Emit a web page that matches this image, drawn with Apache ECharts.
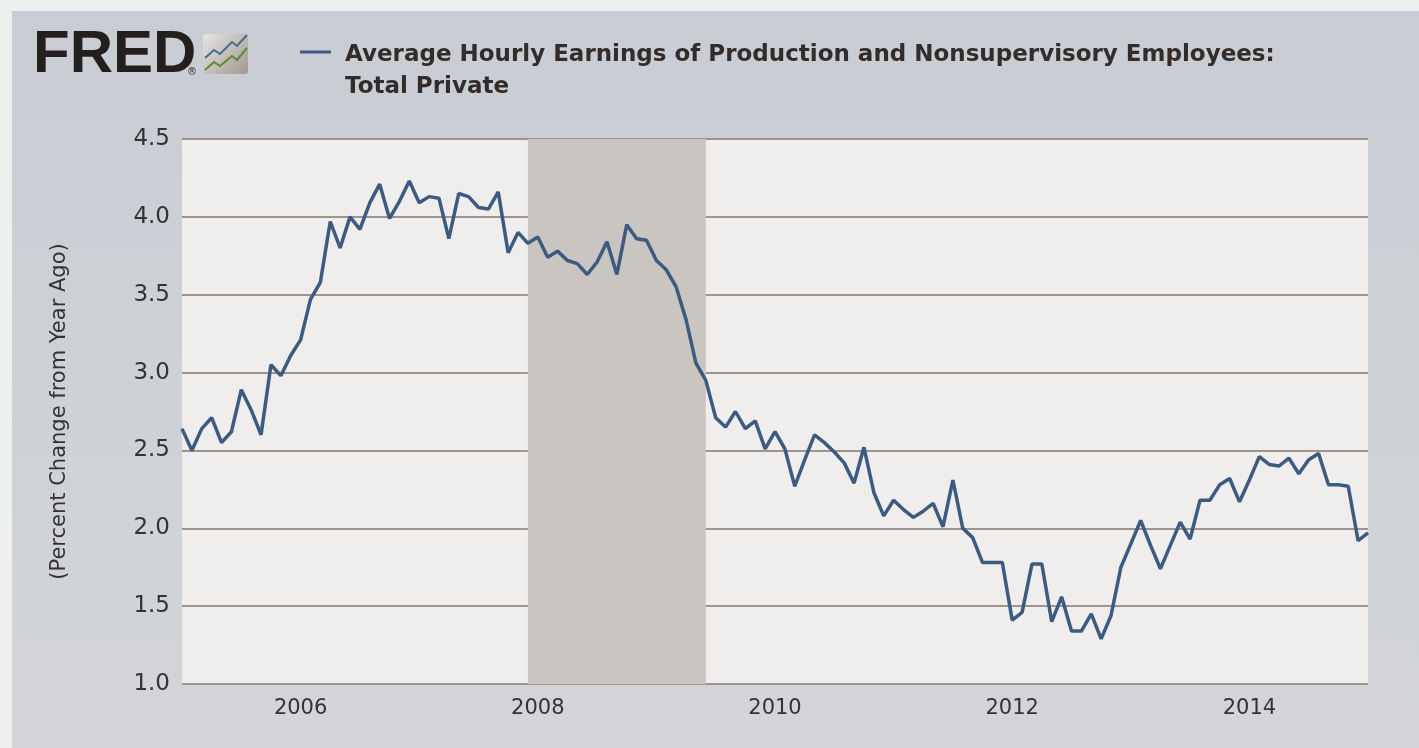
<!DOCTYPE html>
<html>
<head>
<meta charset="utf-8">
<script src="https://cdn.jsdelivr.net/npm/echarts@6/dist/echarts.min.js"></script>
<style>
html,body{margin:0;padding:0;background:#eef0f0;}
#chart{width:1419px;height:748px;}
</style>
</head>
<body>
<div id="chart"></div>
<script>
var y2005 = [2.64, 2.50, 2.64, 2.71, 2.55, 2.62, 2.89, 2.76, 2.60, 3.05, 2.98, 3.11];
var y2006 = [3.21, 3.47, 3.58, 3.97, 3.80, 4.00, 3.92, 4.09, 4.21, 3.99, 4.10, 4.23];
var y2007 = [4.09, 4.13, 4.12, 3.86, 4.15, 4.13, 4.06, 4.05, 4.16, 3.77, 3.90, 3.83];
var y2008 = [3.87, 3.74, 3.78, 3.72, 3.70, 3.63, 3.71, 3.84, 3.63, 3.95, 3.86, 3.85];
var y2009 = [3.72, 3.66, 3.55, 3.34, 3.06, 2.95, 2.71, 2.65, 2.75, 2.64, 2.69, 2.51];
var y2010 = [2.62, 2.51, 2.27, 2.44, 2.60, 2.55, 2.49, 2.42, 2.29, 2.52, 2.23, 2.08];
var y2011 = [2.18, 2.12, 2.07, 2.11, 2.16, 2.01, 2.31, 2.00, 1.94, 1.78, 1.78, 1.78];
var y2012 = [1.41, 1.46, 1.77, 1.77, 1.40, 1.56, 1.34, 1.34, 1.45, 1.29, 1.44, 1.75];
var y2013 = [1.90, 2.05, 1.89, 1.74, 1.89, 2.04, 1.93, 2.18, 2.18, 2.28, 2.32, 2.17];
var y2014 = [2.31, 2.46, 2.41, 2.40, 2.45, 2.35, 2.44, 2.48, 2.28, 2.28, 2.27, 1.92];
var y2015 = [1.97];
var yearLabels = ['2006', '2008', '2010', '2012', '2014'];
var recession = ['2007-12', '2009-06'];

var values = [].concat(y2005, y2006, y2007, y2008, y2009, y2010, y2011, y2012, y2013, y2014, y2015);
var months = [];
for (var i = 0; i < values.length; i++) {
    var yr = 2005 + Math.floor(i / 12);
    var m = i % 12 + 1;
    months.push(yr + '-' + (m < 10 ? '0' + m : m));
}
var showTick = function (idx, val) {
    return val.slice(5) === '01' && yearLabels.indexOf(val.slice(0, 4)) >= 0;
};

var myChart = echarts.init(document.getElementById('chart'));
var option = {
    animation: false,
    grid: {left: 182, top: 139, right: 51, bottom: 64},
    graphic: [
        {type: 'rect', z: -10, shape: {x: 12, y: 11, width: 1407, height: 737},
            style: {fill: new echarts.graphic.LinearGradient(0, 0, 0, 1, [
                {offset: 0, color: '#c9cdd3'}, {offset: 1, color: '#d3d5d8'}])}},
        {type: 'rect', z: -5, shape: {x: 182, y: 139, width: 1186, height: 545},
            style: {fill: '#efeeec'}},
        {type: 'text', left: 33, top: 25,
            style: {text: 'FRED', font: '900 60px "Liberation Sans", Arial', fill: '#231f1e'}},
        {type: 'text', left: 187, top: 67,
            style: {text: '®', font: '10px "DejaVu Sans"', fill: '#231f1e'}},
        {type: 'rect', shape: {x: 203, y: 34, width: 45, height: 40, r: 3},
            style: {fill: new echarts.graphic.LinearGradient(0, 0, 1, 1, [
                {offset: 0, color: '#e8e6e2'}, {offset: 1, color: '#9e9890'}])}},
        {type: 'polyline', shape: {points: [[205, 58], [214, 50], [220, 54], [232, 42], [237, 46], [247, 35]]},
            style: {stroke: '#4c6a92', lineWidth: 2, fill: null}},
        {type: 'polyline', shape: {points: [[205, 70], [214, 62], [220, 66], [232, 56], [237, 60], [247, 48]]},
            style: {stroke: '#5e8a3a', lineWidth: 2, fill: null}},
        {type: 'line', shape: {x1: 300, y1: 52, x2: 331, y2: 52},
            style: {stroke: '#3e5a85', lineWidth: 3}},
        {type: 'text', left: 345, top: 39,
            style: {text: 'Average Hourly Earnings of Production and Nonsupervisory Employees:\nTotal Private',
                font: 'bold 23px "DejaVu Sans"', fill: '#342c2a', lineHeight: 32}}
    ],
    xAxis: {
        type: 'category',
        data: months,
        boundaryGap: false,
        axisLine: {show: false},
        axisTick: {show: false},
        splitLine: {show: false},
        axisLabel: {
            interval: showTick,
            formatter: function (val) { return val.slice(0, 4); },
            color: '#333', fontSize: 21, fontFamily: 'DejaVu Sans', margin: 14
        }
    },
    yAxis: {
        type: 'value',
        min: 1.0, max: 4.5, interval: 0.5,
        name: '(Percent Change from Year Ago)',
        nameLocation: 'middle',
        nameGap: 112,
        nameTextStyle: {color: '#333', fontSize: 21, fontFamily: 'DejaVu Sans'},
        axisLine: {show: false},
        axisTick: {show: false},
        axisLabel: {
            formatter: function (v) { return v.toFixed(1); },
            color: '#333', fontSize: 23, fontFamily: 'DejaVu Sans', margin: 12
        },
        splitLine: {lineStyle: {color: '#9e958f', width: 2}}
    },
    series: [{
        type: 'line',
        data: values,
        symbol: 'none',
        lineStyle: {color: '#3d5a80', width: 3.5},
        markArea: {
            silent: true,
            itemStyle: {color: '#cbc5c1'},
            data: [[{xAxis: recession[0]}, {xAxis: recession[1]}]]
        }
    }]
};
myChart.setOption(option);
</script>
</body>
</html>
